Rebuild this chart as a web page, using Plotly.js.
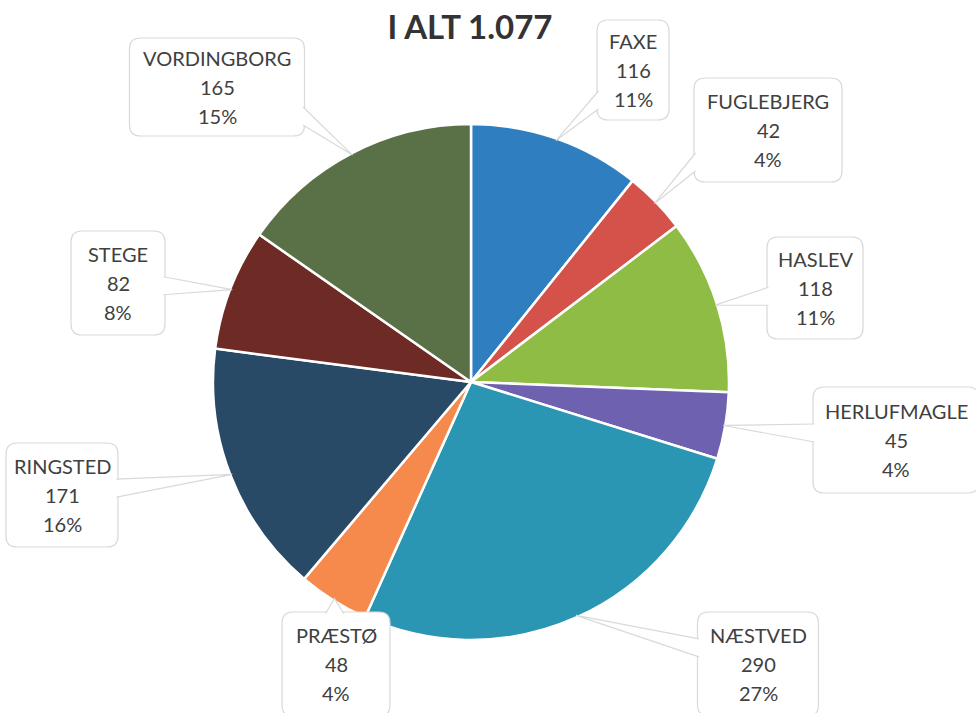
<!DOCTYPE html>
<html>
<head>
<meta charset="utf-8">
<script src="https://cdn.plot.ly/plotly-3.0.1.min.js"></script>
<style>html,body{margin:0;padding:0;background:#fff;}#chart{width:976px;height:713px;}</style>
</head>
<body>
<div id="chart"></div>
<script>
// ---- data ----
const categories = ["FAXE", "FUGLEBJERG", "HASLEV", "HERLUFMAGLE", "NÆSTVED", "PRÆSTØ", "RINGSTED", "STEGE", "VORDINGBORG"];
const values = [116, 42, 118, 45, 290, 48, 171, 82, 165];
const titleText = "I ALT 1.077";

// ---- style ----
const colors = ["#2f7fc0", "#d4524a", "#8fbc44", "#6e62b0", "#2a96b4", "#f58a4c", "#284a66", "#6e2a24", "#5a7046"];
const W = 976, H = 713;
const pieCx = 471, pieCy = 382, pieR = 258;
// callout boxes (pixel centre x, centre y, width, height)
const boxes = [
  [633, 70, 72, 100],
  [768, 130, 148, 104],
  [815, 288, 96, 102],
  [896, 440, 166, 106],
  [758, 664, 121, 104],
  [336, 664, 108, 104],
  [62, 495, 112, 104],
  [118, 283, 94, 104],
  [217, 87, 175, 98]
];

const total = values.reduce((a, b) => a + b, 0);
const px = x => x / W;
const py = y => 1 - y / H;

const shapes = [];
const annotations = [];
const borderCol = "#d9d9d9";
let cum = 0;
values.forEach((v, i) => {
  const mid = (cum + v / 2) / total * 2 * Math.PI;
  cum += v;
  const tx = pieCx + (pieR - 2) * Math.sin(mid);
  const ty = pieCy - (pieR - 2) * Math.cos(mid);
  const [cx, cy, w, h] = boxes[i];
  const hw = w / 2, hh = h / 2, rr = 11;
  const l = cx - hw, r = cx + hw, t = cy - hh, b = cy + hh;
  const rect = `M${px(l + rr)},${py(t)} L${px(r - rr)},${py(t)} Q${px(r)},${py(t)} ${px(r)},${py(t + rr)} ` +
    `L${px(r)},${py(b - rr)} Q${px(r)},${py(b)} ${px(r - rr)},${py(b)} L${px(l + rr)},${py(b)} ` +
    `Q${px(l)},${py(b)} ${px(l)},${py(b - rr)} L${px(l)},${py(t + rr)} Q${px(l)},${py(t)} ${px(l + rr)},${py(t)} Z`;
  shapes.push({type: "path", xref: "paper", yref: "paper", path: rect,
    fillcolor: "#ffffff", line: {color: borderCol, width: 1.2}, layer: "above"});
  const dx = tx - cx, dy = ty - cy;
  let b1, b2;
  const half = 9;
  if (Math.abs(dx) / hw > Math.abs(dy) / hh) {
    const sx = dx > 0 ? r : l;
    let yy = cy + dy * (hw / Math.abs(dx));
    yy = Math.max(t + rr + half, Math.min(b - rr - half, yy));
    const inset = dx > 0 ? -1.5 : 1.5;
    b1 = [sx + inset, yy - half]; b2 = [sx + inset, yy + half];
  } else {
    const sy = dy > 0 ? b : t;
    let xx = cx + dx * (hh / Math.abs(dy));
    xx = Math.max(l + rr + half, Math.min(r - rr - half, xx));
    const inset = dy > 0 ? -1.5 : 1.5;
    b1 = [xx - half, sy + inset]; b2 = [xx + half, sy + inset];
  }
  shapes.push({type: "path", xref: "paper", yref: "paper",
    path: `M${px(b1[0])},${py(b1[1])} L${px(tx)},${py(ty)} L${px(b2[0])},${py(b2[1])}`,
    fillcolor: "#ffffff", line: {color: borderCol, width: 1.2}, layer: "above"});
  const pct = Math.round(v / total * 100) + "%";
  [[categories[i], -29], [String(v), 0], [pct, 29]].forEach(([txt, off]) => {
    annotations.push({xref: "paper", yref: "paper", x: px(cx), y: py(cy + off),
      xanchor: "center", yanchor: "middle", showarrow: false, text: txt,
      font: {family: "Lato, 'Open Sans', sans-serif", size: 20, color: "#404040"}});
  });
});

const trace = {
  type: "pie",
  labels: categories,
  values: values,
  sort: false,
  direction: "clockwise",
  rotation: 0,
  textinfo: "none",
  hoverinfo: "label+value+percent",
  marker: {colors: colors, line: {color: "#ffffff", width: 2.5}},
  domain: {x: [(pieCx - pieR) / W, (pieCx + pieR) / W], y: [py(pieCy + pieR), py(pieCy - pieR)]},
  showlegend: false
};

const layout = {
  width: W, height: H,
  margin: {l: 0, r: 0, t: 0, b: 0},
  paper_bgcolor: "#ffffff",
  plot_bgcolor: "#ffffff",
  title: {text: "<b>" + titleText + "</b>", x: px(470), xanchor: "center", y: py(27), yanchor: "middle",
    font: {family: "Lato, 'Open Sans', sans-serif", size: 33, color: "#333333"}},
  shapes: shapes,
  annotations: annotations,
  showlegend: false
};

Plotly.newPlot("chart", [trace], layout, {displayModeBar: false, responsive: false});
</script>
</body>
</html>
